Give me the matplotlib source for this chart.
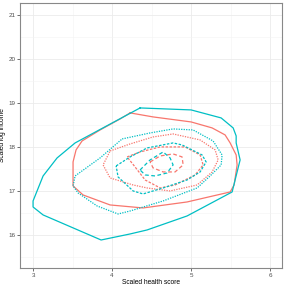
import matplotlib
matplotlib.use("Agg")
from matplotlib import pyplot as plt

# contour paths (health score, log income)
# group A = red, group B = cyan; level 1 outermost .. level 4 innermost
red_l1_x = [4.228, 4.519, 5.0, 5.266, 5.430, 5.494, 5.570, 5.582, 5.544, 5.494, 4.949, 4.392, 3.975, 3.633, 3.506, 3.506, 3.544, 3.620, 3.848, 4.101]
red_l1_y = [18.773, 18.682, 18.568, 18.432, 18.273, 18.091, 17.818, 17.591, 17.136, 16.977, 16.75, 16.614, 16.682, 16.909, 17.114, 17.659, 17.932, 18.136, 18.386, 18.636]
red_l2_x = [3.975, 4.228, 4.519, 4.772, 5.114, 5.304, 5.342, 5.266, 5.076, 4.734, 4.443, 4.266, 3.975, 3.886]
red_l2_y = [17.909, 18.068, 18.227, 18.295, 18.159, 17.932, 17.705, 17.432, 17.136, 17.0, 17.068, 17.136, 17.295, 17.591]
red_l3_x = [4.190, 4.354, 4.608, 4.924, 5.114, 5.152, 5.051, 4.797, 4.608, 4.418, 4.291]
red_l3_y = [17.773, 17.886, 18.0, 18.0, 17.818, 17.591, 17.364, 17.136, 17.068, 17.25, 17.545]
red_l4_x = [4.481, 4.608, 4.772, 4.886, 4.899, 4.797, 4.646, 4.519]
red_l4_y = [17.659, 17.795, 17.841, 17.773, 17.591, 17.432, 17.432, 17.523]

cyan_l1_x = [4.354, 5.0, 5.380, 5.532, 5.570, 5.570, 5.620, 5.519, 4.949, 4.443, 4.228, 3.861, 3.127, 3.0, 3.0, 3.127, 3.304, 3.532]
cyan_l1_y = [18.886, 18.841, 18.659, 18.432, 18.25, 18.091, 17.705, 16.977, 16.432, 16.114, 16.023, 15.886, 16.455, 16.636, 16.773, 17.341, 17.75, 18.091]
cyan_l2_x = [4.127, 4.481, 4.772, 5.025, 5.278, 5.392, 5.380, 5.241, 5.076, 4.646, 4.228, 4.076, 3.810, 3.570, 3.506, 3.532, 3.848]
cyan_l2_y = [18.182, 18.318, 18.409, 18.386, 18.136, 17.818, 17.591, 17.341, 17.068, 16.773, 16.545, 16.477, 16.659, 16.955, 17.114, 17.341, 17.75]
cyan_l3_x = [4.051, 4.228, 4.443, 4.772, 4.886, 5.139, 5.190, 5.114, 4.949, 4.646, 4.392, 4.266, 4.076]
cyan_l3_y = [17.568, 17.773, 17.977, 18.091, 18.045, 17.818, 17.659, 17.432, 17.25, 17.068, 16.932, 17.0, 17.318]
cyan_l4_x = [4.354, 4.481, 4.646, 4.734, 4.772, 4.696, 4.544, 4.418]
cyan_l4_y = [17.477, 17.705, 17.886, 17.75, 17.591, 17.409, 17.341, 17.364]

x_ticks = [3, 4, 5, 6]
y_ticks = [16, 17, 18, 19, 20, 21]

red = "#F8766D"
cyan = "#00BFC4"
dashes = ["-", (0, (1, 1)), (0, (2, 1.2)), (0, (3, 2))]

plt.rcParams["font.family"] = ["Liberation Sans", "DejaVu Sans"]
fig = plt.figure(figsize=(2.86, 2.86), dpi=100)
ax = fig.add_axes([0.07, 0.063, 0.916, 0.9265])


def closed(xs, ys):
    return list(xs) + [xs[0]], list(ys) + [ys[0]]


red_levels = [(red_l1_x, red_l1_y), (red_l2_x, red_l2_y), (red_l3_x, red_l3_y), (red_l4_x, red_l4_y)]
cyan_levels = [(cyan_l1_x, cyan_l1_y), (cyan_l2_x, cyan_l2_y), (cyan_l3_x, cyan_l3_y), (cyan_l4_x, cyan_l4_y)]

for i, (xs, ys) in enumerate(red_levels):
    cx, cy = closed(xs, ys)
    ax.plot(cx, cy, color=red, lw=0.9, linestyle=dashes[i])
for i, (xs, ys) in enumerate(cyan_levels):
    cx, cy = closed(xs, ys)
    ax.plot(cx, cy, color=cyan, lw=0.9, linestyle=dashes[i])

ax.set_xlim(2.835, 6.15)
ax.set_ylim(15.25, 21.27)
ax.set_xticks(x_ticks)
ax.set_yticks(y_ticks)
ax.set_xticks([3.5, 4.5, 5.5], minor=True)
ax.set_yticks([15.5, 16.5, 17.5, 18.5, 19.5, 20.5], minor=True)
ax.grid(which="major", color="#EBEBEB", lw=0.6)
ax.grid(which="minor", color="#F3F3F3", lw=0.4)
ax.set_axisbelow(True)
ax.tick_params(which="major", length=2, width=0.5, color="#333333",
               labelsize=4.5, labelcolor="#4D4D4D", pad=1.5)
ax.tick_params(which="minor", length=0)
for s in ax.spines.values():
    s.set_color("#888888")
    s.set_linewidth(0.8)

ax.set_xlabel("Scaled health score", fontsize=4.8, labelpad=1)
ax.set_ylabel("Scaled log income", fontsize=4.8, labelpad=1.5)

fig.savefig("out.png", dpi=100)
